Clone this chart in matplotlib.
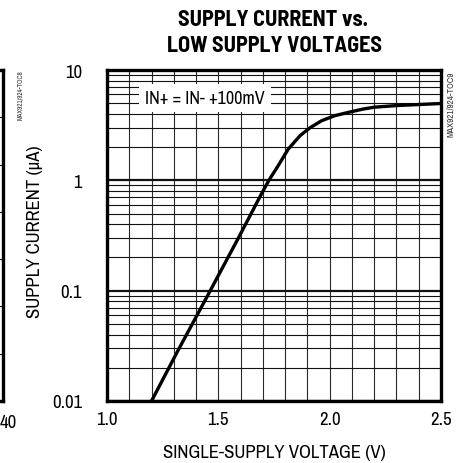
import matplotlib
matplotlib.use("Agg")
import matplotlib.pyplot as plt
import numpy as np
from matplotlib.ticker import LogLocator, NullFormatter, FixedLocator

plt.rcParams["font.family"] = ["Archivo Narrow", "DejaVu Sans"]
TITLE_FONT = ["Barlow Semi Condensed", "DejaVu Sans"]

# ==========================================
# Data
# ==========================================

voltage = [1.20, 1.32, 1.445, 1.59, 1.69, 1.727, 1.769, 1.814, 1.867,
           1.912, 1.964, 2.024, 2.084, 2.151, 2.20, 2.30, 2.50]
current = [0.010, 0.029, 0.085, 0.30, 0.73, 1.00, 1.36, 1.92, 2.54,
           3.00, 3.47, 3.86, 4.13, 4.43, 4.60, 4.76, 4.97]

x_major = [1.0, 1.5, 2.0, 2.5]
x_labels = ["1.0", "1.5", "2.0", "2.5"]
y_major = [0.01, 0.1, 1, 10]
y_labels = ["0.01", "0.1", "1", "10"]

W, H = 461, 464
fig = plt.figure(figsize=(W / 100, H / 100), dpi=100)

# ==========================================
# Main axes
# ==========================================

ax = fig.add_axes([107 / W, 1 - 402 / H, 334 / W, 331 / H])

ax.plot(voltage, current, color="black", linewidth=2.4,
        solid_joinstyle="round", zorder=4)

ax.set_yscale("log")
ax.set_xlim(1.0, 2.5)
ax.set_ylim(0.01, 10)

ax.xaxis.set_major_locator(FixedLocator(x_major))
ax.set_xticklabels(x_labels)
ax.xaxis.set_minor_locator(FixedLocator(np.arange(1.0, 2.51, 0.1)))

ax.yaxis.set_major_locator(FixedLocator(y_major))
ax.set_yticklabels(y_labels)
ax.yaxis.set_minor_locator(LogLocator(base=10, subs=np.arange(2, 10)))
ax.yaxis.set_minor_formatter(NullFormatter())

ax.tick_params(which="both", length=0, labelsize=13.5)
ax.tick_params(axis="x", pad=7)
ax.tick_params(axis="y", pad=18)

ax.grid(True, which="minor", axis="x", color="#2a2a2a", linewidth=0.8)
ax.grid(True, which="major", axis="x", color="#2a2a2a", linewidth=0.8)
ax.grid(True, which="minor", axis="y", color="#111111", linewidth=0.8)
ax.grid(True, which="major", axis="y", color="#111111", linewidth=1.6)
ax.set_axisbelow(True)

for side in ax.spines.values():
    side.set_linewidth(2.4)
    side.set_zorder(5)

ax.text(
    0.293, 0.915, "IN+ = IN- +100mV",
    transform=ax.transAxes, ha="center", va="center", fontsize=13,
    bbox=dict(facecolor="white", edgecolor="none", pad=4.5),
    zorder=3
)

# ==========================================
# Titles and labels
# ==========================================

fig.text(273 / W, 1 - 20 / H, "SUPPLY CURRENT vs.", family=TITLE_FONT,
         ha="center", va="center", fontsize=16, fontweight="bold")
fig.text(274 / W, 1 - 46 / H, "LOW SUPPLY VOLTAGES", family=TITLE_FONT,
         ha="center", va="center", fontsize=16, fontweight="bold")

fig.text(274 / W, 1 - 453 / H, "SINGLE-SUPPLY VOLTAGE (V)",
         ha="center", va="center", fontsize=13.5)
fig.text(35 / W, 1 - 232 / H, "SUPPLY CURRENT (\u00b5A)",
         ha="center", va="center", rotation=90, fontsize=13.5)

fig.text(450 / W, 1 - 72 / H, "MAX921/924-TOC9",
         ha="center", va="top", rotation=90, fontsize=6.5, color="#333333")
fig.text(21 / W, 1 - 70 / H, "MAX921/924-TOC8",
         ha="center", va="top", rotation=90, fontsize=5, color="#333333")

# ==========================================
# Edge of the neighbouring chart (left)
# ==========================================

ax0 = fig.add_axes([(3 - 200) / W, 1 - 402 / H, 200 / W, 331 / H])
ax0.set_xlim(0, 40)
ax0.set_ylim(0, 7)
ax0.set_xticks([])
ax0.set_yticks(range(8))
ax0.set_yticklabels([])
ax0.grid(True, axis="y", color="#111111", linewidth=0.8)
ax0.tick_params(length=0)
ax0.spines["left"].set_visible(False)
for name in ["right", "top", "bottom"]:
    ax0.spines[name].set_linewidth(2.4)

fig.text(0, 1 - 423 / H, "40", ha="left", va="center", fontsize=13.5)

fig.savefig("out.png", dpi=100)
